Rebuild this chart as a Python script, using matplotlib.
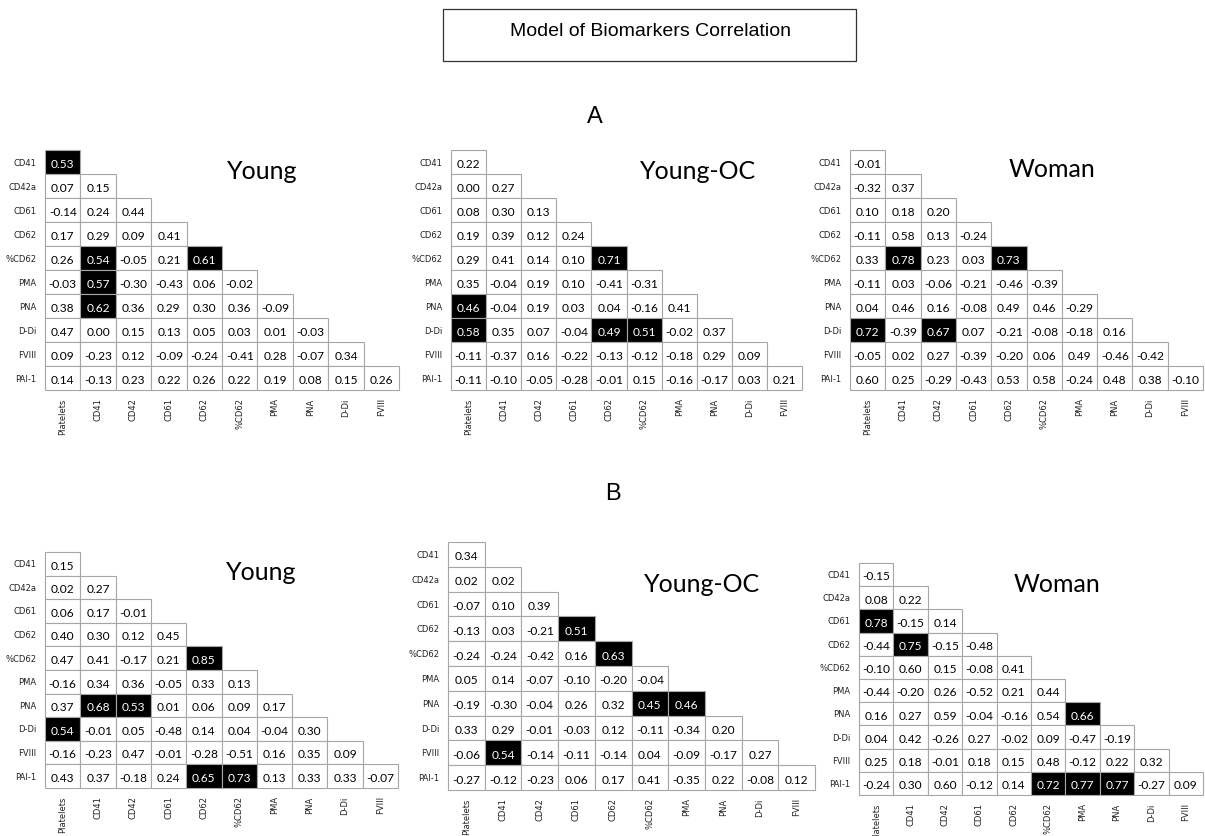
import matplotlib

matplotlib.use("Agg")
import matplotlib.pyplot as plt
from matplotlib.patches import Rectangle

FIG_W, FIG_H = 1205, 836

COLUMNS = ["Platelets", "CD41", "CD42", "CD61", "CD62", "%CD62", "PMA", "PNA", "D-Di", "FVIII"]
ROWS = ["CD41", "CD42a", "CD61", "CD62", "%CD62", "PMA", "PNA", "D-Di", "FVIII", "PAI-1"]

# lower-triangle correlations, row i has i + 1 values
A_YOUNG = [
    [0.53],
    [0.07, 0.15],
    [-0.14, 0.24, 0.44],
    [0.17, 0.29, 0.09, 0.41],
    [0.26, 0.54, -0.05, 0.21, 0.61],
    [-0.03, 0.57, -0.30, -0.43, 0.06, -0.02],
    [0.38, 0.62, 0.36, 0.29, 0.30, 0.36, -0.09],
    [0.47, 0.00, 0.15, 0.13, 0.05, 0.03, 0.01, -0.03],
    [0.09, -0.23, 0.12, -0.09, -0.24, -0.41, 0.28, -0.07, 0.34],
    [0.14, -0.13, 0.23, 0.22, 0.26, 0.22, 0.19, 0.08, 0.15, 0.26],
]
A_YOUNG_SIG = [(0, 0), (4, 1), (5, 1), (6, 1), (4, 4)]

A_YOUNG_OC = [
    [0.22],
    [0.00, 0.27],
    [0.08, 0.30, 0.13],
    [0.19, 0.39, 0.12, 0.24],
    [0.29, 0.41, 0.14, 0.10, 0.71],
    [0.35, -0.04, 0.19, 0.10, -0.41, -0.31],
    [0.46, -0.04, 0.19, 0.03, 0.04, -0.16, 0.41],
    [0.58, 0.35, 0.07, -0.04, 0.49, 0.51, -0.02, 0.37],
    [-0.11, -0.37, 0.16, -0.22, -0.13, -0.12, -0.18, 0.29, 0.09],
    [-0.11, -0.10, -0.05, -0.28, -0.01, 0.15, -0.16, -0.17, 0.03, 0.21],
]
A_YOUNG_OC_SIG = [(4, 4), (6, 0), (7, 0), (7, 4), (7, 5)]

A_WOMAN = [
    [-0.01],
    [-0.32, 0.37],
    [0.10, 0.18, 0.20],
    [-0.11, 0.58, 0.13, -0.24],
    [0.33, 0.78, 0.23, 0.03, 0.73],
    [-0.11, 0.03, -0.06, -0.21, -0.46, -0.39],
    [0.04, 0.46, 0.16, -0.08, 0.49, 0.46, -0.29],
    [0.72, -0.39, 0.67, 0.07, -0.21, -0.08, -0.18, 0.16],
    [-0.05, 0.02, 0.27, -0.39, -0.20, 0.06, 0.49, -0.46, -0.42],
    [0.60, 0.25, -0.29, -0.43, 0.53, 0.58, -0.24, 0.48, 0.38, -0.10],
]
A_WOMAN_SIG = [(4, 1), (4, 4), (7, 0), (7, 2)]

B_YOUNG = [
    [0.15],
    [0.02, 0.27],
    [0.06, 0.17, -0.01],
    [0.40, 0.30, 0.12, 0.45],
    [0.47, 0.41, -0.17, 0.21, 0.85],
    [-0.16, 0.34, 0.36, -0.05, 0.33, 0.13],
    [0.37, 0.68, 0.53, 0.01, 0.06, 0.09, 0.17],
    [0.54, -0.01, 0.05, -0.48, 0.14, 0.04, -0.04, 0.30],
    [-0.16, -0.23, 0.47, -0.01, -0.28, -0.51, 0.16, 0.35, 0.09],
    [0.43, 0.37, -0.18, 0.24, 0.65, 0.73, 0.13, 0.33, 0.33, -0.07],
]
B_YOUNG_SIG = [(4, 4), (6, 1), (6, 2), (7, 0), (9, 4), (9, 5)]

B_YOUNG_OC = [
    [0.34],
    [0.02, 0.02],
    [-0.07, 0.10, 0.39],
    [-0.13, 0.03, -0.21, 0.51],
    [-0.24, -0.24, -0.42, 0.16, 0.63],
    [0.05, 0.14, -0.07, -0.10, -0.20, -0.04],
    [-0.19, -0.30, -0.04, 0.26, 0.32, 0.45, 0.46],
    [0.33, 0.29, -0.01, -0.03, 0.12, -0.11, -0.34, 0.20],
    [-0.06, 0.54, -0.14, -0.11, -0.14, 0.04, -0.09, -0.17, 0.27],
    [-0.27, -0.12, -0.23, 0.06, 0.17, 0.41, -0.35, 0.22, -0.08, 0.12],
]
B_YOUNG_OC_SIG = [(3, 3), (4, 4), (6, 5), (6, 6), (8, 1)]

B_WOMAN = [
    [-0.15],
    [0.08, 0.22],
    [0.78, -0.15, 0.14],
    [-0.44, 0.75, -0.15, -0.48],
    [-0.10, 0.60, 0.15, -0.08, 0.41],
    [-0.44, -0.20, 0.26, -0.52, 0.21, 0.44],
    [0.16, 0.27, 0.59, -0.04, -0.16, 0.54, 0.66],
    [0.04, 0.42, -0.26, 0.27, -0.02, 0.09, -0.47, -0.19],
    [0.25, 0.18, -0.01, 0.18, 0.15, 0.48, -0.12, 0.22, 0.32],
    [-0.24, 0.30, 0.60, -0.12, 0.14, 0.72, 0.77, 0.77, -0.27, 0.09],
]
B_WOMAN_SIG = [(2, 0), (3, 1), (6, 6), (9, 5), (9, 6), (9, 7)]

# (data, highlighted cells, title, grid box in px [x0, y0, x1, y1], title pos in px)
PANELS = [
    (A_YOUNG, A_YOUNG_SIG, "Young", (45, 150, 399, 390), (262, 179)),
    (A_YOUNG_OC, A_YOUNG_OC_SIG, "Young-OC", (451, 150, 802, 390), (698, 179)),
    (A_WOMAN, A_WOMAN_SIG, "Woman", (850, 150, 1203, 390), (1052, 177)),
    (B_YOUNG, B_YOUNG_SIG, "Young", (45, 552, 398, 788), (261, 580)),
    (B_YOUNG_OC, B_YOUNG_OC_SIG, "Young-OC", (448, 542, 815, 790), (702, 592)),
    (B_WOMAN, B_WOMAN_SIG, "Woman", (859, 563, 1203, 795), (1057, 592)),
]

CELL_FONT = "Lato"
GRID_COLOR = "#a6a6a6"


def fx(px):
    return px / FIG_W


def fy(py):
    return 1 - py / FIG_H


def draw_panel(fig, values, sig, box):
    x0, y0, x1, y1 = box
    ax = fig.add_axes([fx(x0), fy(y1), fx(x1 - x0), (y1 - y0) / FIG_H])
    ax.set_xlim(0, len(COLUMNS))
    ax.set_ylim(len(ROWS), 0)
    for spine in ax.spines.values():
        spine.set_visible(False)

    for i, row in enumerate(values):
        for j, val in enumerate(row):
            dark = (i, j) in sig
            ax.add_patch(Rectangle((j, i), 1, 1, facecolor="black" if dark else "white",
                                   edgecolor=GRID_COLOR, linewidth=0.8, clip_on=False))
            ax.text(j + 0.5, i + 0.6, f"{val:.2f}", ha="center", va="center",
                    fontsize=8.6, family=CELL_FONT, color="white" if dark else "black")

    ax.set_xticks([j + 0.5 for j in range(len(COLUMNS))])
    ax.set_xticklabels(COLUMNS, rotation=90, fontsize=6, family="DejaVu Sans", color="#222222")
    ax.set_yticks([i + 0.5 for i in range(len(ROWS))])
    ax.set_yticklabels(ROWS, fontsize=6, family="DejaVu Sans", color="#222222")
    ax.tick_params(length=0, pad=6)
    return ax


fig = plt.figure(figsize=(FIG_W / 100, FIG_H / 100), dpi=100)
fig.patch.set_facecolor("white")

# header box
fig.patches.append(Rectangle((fx(443), fy(61)), fx(856 - 443), (61 - 9) / FIG_H,
                             transform=fig.transFigure, facecolor="white",
                             edgecolor="#333333", linewidth=0.9))
fig.text(fx(650), fy(32), "Model of Biomarkers Correlation", ha="center", va="center",
         fontsize=14, family="Liberation Sans")
fig.text(fx(595), fy(117), "A", ha="center", va="center", fontsize=17, family="Liberation Sans")
fig.text(fx(613), fy(494), "B", ha="center", va="center", fontsize=17, family="Liberation Sans")

for values, sig, title, box, tpos in PANELS:
    draw_panel(fig, values, sig, box)
    fig.text(fx(tpos[0]), fy(tpos[1]), title, ha="center", va="baseline",
             fontsize=18, family=CELL_FONT)

fig.savefig("out.png", dpi=100)
plt.close(fig)
